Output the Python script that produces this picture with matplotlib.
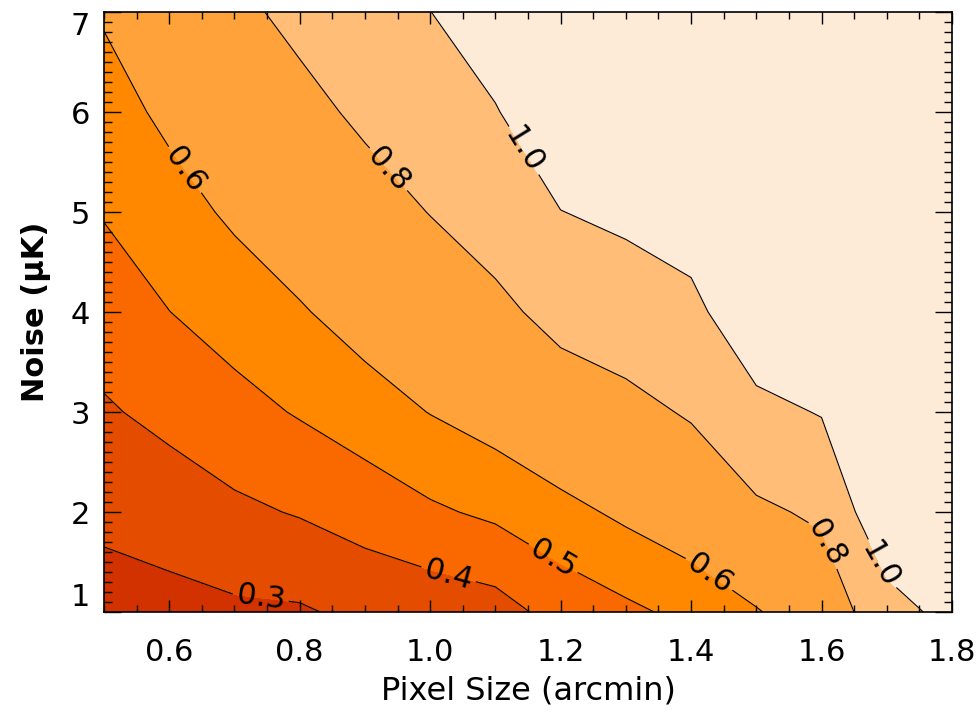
import numpy as np
import matplotlib
matplotlib.use("Agg")
import matplotlib.pyplot as plt
from matplotlib.ticker import MultipleLocator

# Grid of the plotted quantity
pixel_size = [0.5, 0.6, 0.7, 0.8, 0.9, 1.0, 1.1, 1.2, 1.3, 1.4, 1.5, 1.6, 1.7, 1.8]
noise = [1, 2, 3, 4, 5, 6, 7]

row_n1 = [0.257, 0.267, 0.283, 0.289, 0.324, 0.338, 0.360, 0.436, 0.480, 0.526, 0.591, 0.681, 0.920, 1.063]
row_n2 = [0.323, 0.348, 0.381, 0.407, 0.443, 0.485, 0.519, 0.568, 0.621, 0.672, 0.770, 0.827, 1.160, 1.300]
row_n3 = [0.389, 0.426, 0.467, 0.508, 0.552, 0.603, 0.648, 0.708, 0.753, 0.816, 0.949, 1.010, 1.350, 1.550]
row_n4 = [0.448, 0.499, 0.544, 0.590, 0.647, 0.704, 0.762, 0.851, 0.894, 0.950, 1.142, 1.200, 1.550, 1.750]
row_n5 = [0.506, 0.560, 0.617, 0.673, 0.737, 0.804, 0.876, 0.997, 1.040, 1.095, 1.330, 1.380, 1.750, 1.950]
row_n6 = [0.558, 0.622, 0.692, 0.756, 0.828, 0.902, 0.989, 1.143, 1.190, 1.245, 1.500, 1.560, 1.950, 2.150]
row_n7 = [0.610, 0.686, 0.766, 0.839, 0.920, 0.998, 1.110, 1.290, 1.340, 1.395, 1.650, 1.740, 2.150, 2.350]

line_levels = [0.3, 0.4, 0.5, 0.6, 0.8, 1.0]
fill_bounds = [0.2, 0.3, 0.4, 0.5, 0.6, 0.8, 1.0, 2.5]
fill_colors = ["#D13200", "#E44C00", "#FA6800", "#FF8800", "#FFA23A", "#FFBD78", "#FDEBD7"]

xticks = [0.6, 0.8, 1.0, 1.2, 1.4, 1.6, 1.8]
xticklabels = ["0.6", "0.8", "1.0", "1.2", "1.4", "1.6", "1.8"]
yticks = [1, 2, 3, 4, 5, 6, 7]
yticklabels = ["1", "2", "3", "4", "5", "6", "7"]

label_pos = [(0.63, 5.45), (0.94, 5.45), (1.145, 5.62), (0.74, 1.13), (1.03, 1.42),
             (1.19, 1.55), (1.43, 1.40), (1.61, 1.70), (1.69, 1.47)]

Z = np.array([row_n1, row_n2, row_n3, row_n4, row_n5, row_n6, row_n7])
X, Y = np.meshgrid(pixel_size, noise)

fig = plt.figure(figsize=(9.8, 7.13), dpi=100)
ax = fig.add_axes([104 / 980, 101 / 713, 848 / 980, 600 / 713])

ax.contourf(X, Y, Z, levels=fill_bounds, colors=fill_colors)
cs = ax.contour(X, Y, Z, levels=line_levels, colors="black", linewidths=0.8)
ax.clabel(cs, manual=label_pos, inline=True, fmt="%.1f", fontsize=22, inline_spacing=4)

ax.set_xlim(0.5, 1.8)
ax.set_ylim(1, 7)
ax.set_xticks(xticks)
ax.set_xticklabels(xticklabels)
ax.set_yticks(yticks)
ax.set_yticklabels(yticklabels)
ax.xaxis.set_minor_locator(MultipleLocator(0.05))
ax.yaxis.set_minor_locator(MultipleLocator(0.1))
ax.tick_params(axis="both", which="both", direction="in", top=True, right=True, colors="black")
ax.tick_params(axis="x", which="major", length=8.6, width=1, pad=19, labelsize=22)
ax.tick_params(axis="x", which="minor", length=5, width=1)
ax.tick_params(axis="y", which="major", length=12, width=1, pad=10, labelsize=22)
ax.tick_params(axis="y", which="minor", length=5.8, width=1)

ylabs = ax.get_yticklabels()
ylabs[0].set_va("bottom")
ylabs[-1].set_va("top")

for sp in ax.spines.values():
    sp.set_linewidth(1.2)

ax.set_xlabel("Pixel Size (arcmin)", fontsize=23, labelpad=6)
ax.set_ylabel("Noise (μK)", fontsize=22, fontweight="bold", labelpad=14)

fig.savefig("out.png", dpi=100)
